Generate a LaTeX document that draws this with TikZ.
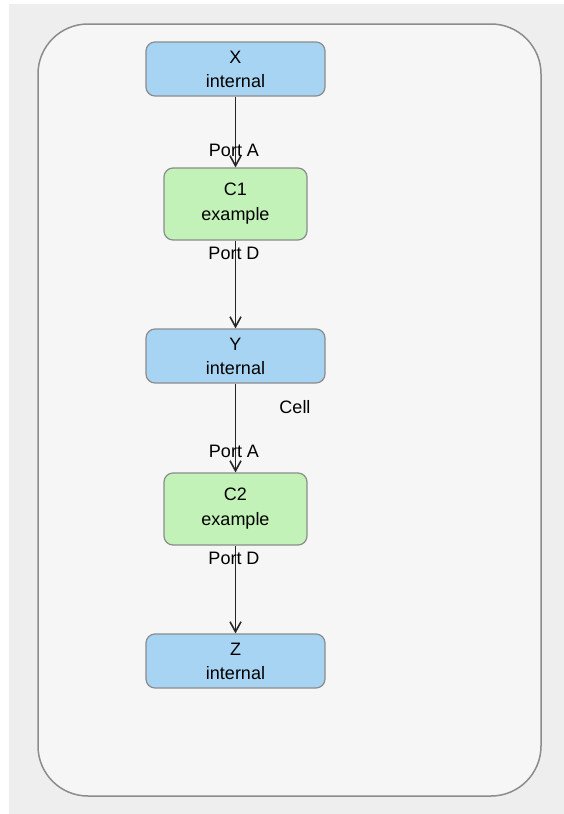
\documentclass[tikz,border=0pt]{standalone}
\usepackage{xcolor}
\usepackage{fontspec}
\setmainfont{Liberation Sans}
\usepackage{tikz}
\usetikzlibrary{arrows.meta}
\usetikzlibrary{positioning}
\definecolor{pagegrey}{HTML}{EEEEEE}
\definecolor{cellgrey}{HTML}{F6F6F6}
\definecolor{edgegrey}{HTML}{8C8C8C}
\definecolor{intblue}{HTML}{A8D4F4}
\definecolor{exgreen}{HTML}{C2F2B8}
\tikzset{>={Straight Barb[length=10pt,width=11pt]}}
\tikzstyle{internal} = [draw=edgegrey, line width=1.2pt, fill=intblue, rounded corners=9pt, minimum width=179pt, minimum height=54pt, inner sep=0, align=center, font=\fontsize{18}{24}\selectfont]
\tikzstyle{example} = [draw=edgegrey, line width=1.2pt, fill=exgreen, rounded corners=9pt, minimum width=143pt, minimum height=72pt, inner sep=0, align=center, font=\fontsize{18}{25}\selectfont]
\tikzstyle{port} = [draw=none, inner sep=0, font=\fontsize{18}{24}\selectfont]
\tikzstyle{link} = [->, draw=black!85, line width=1.6pt]

\begin{document}
\begin{tikzpicture}[x=1pt, y=-1pt]
\useasboundingbox (0, 0) rectangle (564, 814);
\fill [white] (0, 0) rectangle (564, 814);
\fill [pagegrey] (9, 4) rectangle (564, 814);
\draw [draw=edgegrey, fill=cellgrey, line width=1.5pt, rounded corners=50pt] (38, 24) rectangle (541, 796);

\node [internal] (X) at (235.5, 69) {X\\internal};
\node [example] (C1) at (235.5, 204) {C1\\example};
\node [internal] (Y) at (235.5, 356) {Y\\internal};
\node [example] (C2) at (235.5, 509) {C2\\example};
\node [internal] (Z) at (235.5, 661) {Z\\internal};

\node [port] (cell) at (295, 407) {Cell};

\draw [link] (X) to (C1);
\draw [link] (C1) to (Y);
\draw [link] (Y) to (C2);
\draw [link] (C2) to (Z);

\node [port] (pA1) at (234, 150) {Port A};
\node [port] (pD1) at (234, 253) {Port D};
\node [port] (pA2) at (234, 451) {Port A};
\node [port] (pD2) at (234, 558) {Port D};
\end{tikzpicture}
\end{document}
